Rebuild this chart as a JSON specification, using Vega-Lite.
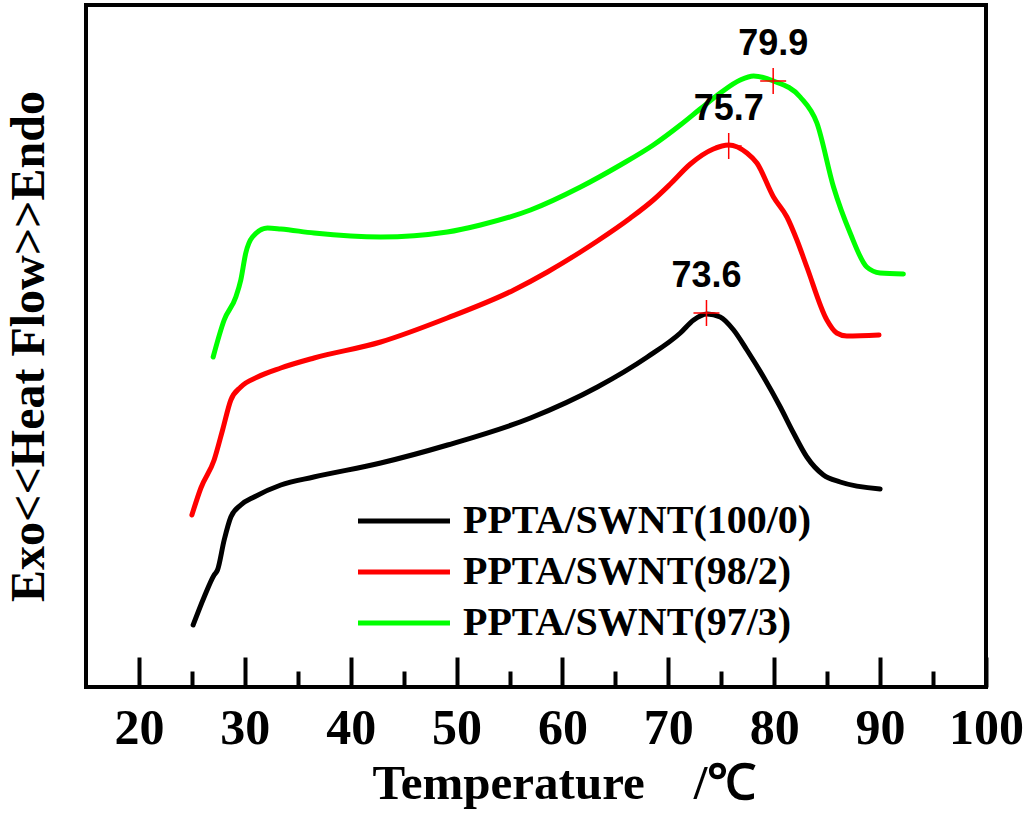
{
  "$schema": "https://vega.github.io/schema/vega-lite/v6.json",
  "description": "DSC curves of PPTA/SWNT blends",
  "width": 900,
  "height": 682,
  "autosize": {"type": "none"},
  "padding": {"left": 86, "top": 5, "right": 38, "bottom": 134},
  "background": "white",
  "config": {
    "view": {"stroke": "black", "strokeWidth": 4},
    "axis": {"domain": false, "grid": false}
  },
  "datasets": {
    "curves": [
      {"series": "PPTA/SWNT(100/0)", "T": 25.12, "hf": 6.2},
      {"series": "PPTA/SWNT(100/0)", "T": 26.16, "hf": 9.0},
      {"series": "PPTA/SWNT(100/0)", "T": 27.1, "hf": 11.2},
      {"series": "PPTA/SWNT(100/0)", "T": 27.42, "hf": 11.7},
      {"series": "PPTA/SWNT(100/0)", "T": 28.05, "hf": 14.7},
      {"series": "PPTA/SWNT(100/0)", "T": 28.68, "hf": 17.0},
      {"series": "PPTA/SWNT(100/0)", "T": 29.62, "hf": 18.2},
      {"series": "PPTA/SWNT(100/0)", "T": 30.88, "hf": 19.0},
      {"series": "PPTA/SWNT(100/0)", "T": 33.4, "hf": 20.2},
      {"series": "PPTA/SWNT(100/0)", "T": 36.5, "hf": 21.0},
      {"series": "PPTA/SWNT(100/0)", "T": 42.83, "hf": 22.4},
      {"series": "PPTA/SWNT(100/0)", "T": 49.15, "hf": 24.2},
      {"series": "PPTA/SWNT(100/0)", "T": 56.98, "hf": 26.9},
      {"series": "PPTA/SWNT(100/0)", "T": 63.3, "hf": 30.0},
      {"series": "PPTA/SWNT(100/0)", "T": 68.02, "hf": 33.0},
      {"series": "PPTA/SWNT(100/0)", "T": 71.13, "hf": 35.4},
      {"series": "PPTA/SWNT(100/0)", "T": 72.39, "hf": 36.7},
      {"series": "PPTA/SWNT(100/0)", "T": 73.65, "hf": 37.3},
      {"series": "PPTA/SWNT(100/0)", "T": 74.9, "hf": 37.0},
      {"series": "PPTA/SWNT(100/0)", "T": 76.16, "hf": 35.7},
      {"series": "PPTA/SWNT(100/0)", "T": 77.42, "hf": 33.7},
      {"series": "PPTA/SWNT(100/0)", "T": 78.99, "hf": 31.0},
      {"series": "PPTA/SWNT(100/0)", "T": 80.57, "hf": 28.0},
      {"series": "PPTA/SWNT(100/0)", "T": 81.82, "hf": 25.4},
      {"series": "PPTA/SWNT(100/0)", "T": 83.08, "hf": 23.0},
      {"series": "PPTA/SWNT(100/0)", "T": 84.65, "hf": 21.2},
      {"series": "PPTA/SWNT(100/0)", "T": 86.23, "hf": 20.5},
      {"series": "PPTA/SWNT(100/0)", "T": 90.0, "hf": 19.8},
      {"series": "PPTA/SWNT(98/2)", "T": 25.0, "hf": 17.2},
      {"series": "PPTA/SWNT(98/2)", "T": 25.85, "hf": 19.9},
      {"series": "PPTA/SWNT(98/2)", "T": 27.1, "hf": 22.7},
      {"series": "PPTA/SWNT(98/2)", "T": 27.9, "hf": 25.7},
      {"series": "PPTA/SWNT(98/2)", "T": 28.68, "hf": 28.7},
      {"series": "PPTA/SWNT(98/2)", "T": 29.62, "hf": 30.0},
      {"series": "PPTA/SWNT(98/2)", "T": 31.2, "hf": 31.0},
      {"series": "PPTA/SWNT(98/2)", "T": 33.4, "hf": 31.9},
      {"series": "PPTA/SWNT(98/2)", "T": 36.54, "hf": 32.9},
      {"series": "PPTA/SWNT(98/2)", "T": 42.83, "hf": 34.5},
      {"series": "PPTA/SWNT(98/2)", "T": 49.12, "hf": 36.9},
      {"series": "PPTA/SWNT(98/2)", "T": 55.41, "hf": 39.7},
      {"series": "PPTA/SWNT(98/2)", "T": 58.58, "hf": 41.5},
      {"series": "PPTA/SWNT(98/2)", "T": 61.7, "hf": 43.5},
      {"series": "PPTA/SWNT(98/2)", "T": 63.3, "hf": 44.6},
      {"series": "PPTA/SWNT(98/2)", "T": 66.42, "hf": 46.9},
      {"series": "PPTA/SWNT(98/2)", "T": 68.58, "hf": 48.7},
      {"series": "PPTA/SWNT(98/2)", "T": 70.19, "hf": 50.3},
      {"series": "PPTA/SWNT(98/2)", "T": 72.08, "hf": 52.3},
      {"series": "PPTA/SWNT(98/2)", "T": 74.25, "hf": 53.8},
      {"series": "PPTA/SWNT(98/2)", "T": 75.7, "hf": 54.2},
      {"series": "PPTA/SWNT(98/2)", "T": 77.42, "hf": 53.4},
      {"series": "PPTA/SWNT(98/2)", "T": 78.36, "hf": 52.4},
      {"series": "PPTA/SWNT(98/2)", "T": 79.93, "hf": 49.0},
      {"series": "PPTA/SWNT(98/2)", "T": 81.2, "hf": 47.0},
      {"series": "PPTA/SWNT(98/2)", "T": 82.14, "hf": 44.7},
      {"series": "PPTA/SWNT(98/2)", "T": 83.08, "hf": 42.0},
      {"series": "PPTA/SWNT(98/2)", "T": 84.97, "hf": 36.7},
      {"series": "PPTA/SWNT(98/2)", "T": 85.9, "hf": 35.4},
      {"series": "PPTA/SWNT(98/2)", "T": 86.85, "hf": 35.1},
      {"series": "PPTA/SWNT(98/2)", "T": 89.9, "hf": 35.2},
      {"series": "PPTA/SWNT(97/3)", "T": 27.01, "hf": 33.0},
      {"series": "PPTA/SWNT(97/3)", "T": 28.05, "hf": 36.7},
      {"series": "PPTA/SWNT(97/3)", "T": 29.15, "hf": 39.0},
      {"series": "PPTA/SWNT(97/3)", "T": 29.62, "hf": 40.7},
      {"series": "PPTA/SWNT(97/3)", "T": 30.09, "hf": 43.4},
      {"series": "PPTA/SWNT(97/3)", "T": 30.72, "hf": 45.0},
      {"series": "PPTA/SWNT(97/3)", "T": 32.14, "hf": 45.9},
      {"series": "PPTA/SWNT(97/3)", "T": 33.4, "hf": 45.8},
      {"series": "PPTA/SWNT(97/3)", "T": 36.54, "hf": 45.4},
      {"series": "PPTA/SWNT(97/3)", "T": 42.83, "hf": 45.0},
      {"series": "PPTA/SWNT(97/3)", "T": 49.12, "hf": 45.5},
      {"series": "PPTA/SWNT(97/3)", "T": 52.26, "hf": 46.2},
      {"series": "PPTA/SWNT(97/3)", "T": 56.98, "hf": 47.7},
      {"series": "PPTA/SWNT(97/3)", "T": 61.7, "hf": 50.0},
      {"series": "PPTA/SWNT(97/3)", "T": 65.47, "hf": 52.2},
      {"series": "PPTA/SWNT(97/3)", "T": 68.58, "hf": 54.2},
      {"series": "PPTA/SWNT(97/3)", "T": 71.13, "hf": 56.2},
      {"series": "PPTA/SWNT(97/3)", "T": 73.0, "hf": 57.8},
      {"series": "PPTA/SWNT(97/3)", "T": 74.9, "hf": 59.4},
      {"series": "PPTA/SWNT(97/3)", "T": 76.79, "hf": 60.7},
      {"series": "PPTA/SWNT(97/3)", "T": 78.05, "hf": 61.1},
      {"series": "PPTA/SWNT(97/3)", "T": 79.93, "hf": 60.6},
      {"series": "PPTA/SWNT(97/3)", "T": 82.45, "hf": 59.0},
      {"series": "PPTA/SWNT(97/3)", "T": 84.03, "hf": 56.4},
      {"series": "PPTA/SWNT(97/3)", "T": 85.6, "hf": 50.0},
      {"series": "PPTA/SWNT(97/3)", "T": 87.17, "hf": 45.4},
      {"series": "PPTA/SWNT(97/3)", "T": 88.74, "hf": 42.0},
      {"series": "PPTA/SWNT(97/3)", "T": 90.0, "hf": 41.4},
      {"series": "PPTA/SWNT(97/3)", "T": 92.2, "hf": 41.3}
    ],
    "peaks": [
      {"T": 73.6, "hf": 37.4, "label": "73.6"},
      {"T": 75.7, "hf": 54.1, "label": "75.7"},
      {"T": 79.9, "hf": 60.6, "label": "79.9"}
    ]
  },
  "layer": [
    {
      "data": {"name": "curves"},
      "mark": {"type": "line", "strokeWidth": 5, "interpolate": "monotone", "strokeCap": "round"},
      "encoding": {
        "x": {
          "field": "T",
          "type": "quantitative",
          "scale": {"domain": [15, 100], "nice": false, "zero": false},
          "axis": {
            "title": "Temperature \u00a0 \u00a0/℃",
            "values": [20, 25, 30, 35, 40, 45, 50, 55, 60, 65, 70, 75, 80, 85, 90, 95, 100],
            "labelExpr": "datum.value % 10 === 0 ? datum.label : ''",
            "tickSize": {"condition": {"test": "datum.value % 10 === 0", "value": -30}, "value": -16},
            "tickWidth": 4,
            "tickColor": "black",
            "labelFont": "Liberation Serif",
            "labelFontWeight": "bold",
            "labelFontSize": 50,
            "labelColor": "black",
            "labelPadding": 46,
            "labelFlush": false,
            "labelOverlap": false,
            "titleFont": "Liberation Serif",
            "titleFontWeight": "bold",
            "titleFontSize": 49,
            "titleColor": "black",
            "titlePadding": -8,
            "titleX": 478
          }
        },
        "y": {
          "field": "hf",
          "type": "quantitative",
          "scale": {"domain": [0, 68.2], "nice": false},
          "axis": {
            "title": "Exo<<Heat Flow>>Endo",
            "ticks": false,
            "labels": false,
            "titleFont": "Liberation Serif",
            "titleFontWeight": "bold",
            "titleFontSize": 48,
            "titleColor": "black",
            "titlePadding": 33
          }
        },
        "color": {
          "field": "series",
          "type": "nominal",
          "scale": {
            "domain": ["PPTA/SWNT(100/0)", "PPTA/SWNT(98/2)", "PPTA/SWNT(97/3)"],
            "range": ["#000000", "#ff0000", "#00ff00"]
          },
          "legend": {
            "title": null,
            "orient": "none",
            "legendX": 297,
            "legendY": 495,
            "padding": 0,
            "symbolType": "M-2.5,0L2.5,0",
            "symbolSize": 1354,
            "symbolStrokeWidth": 5,
            "labelFont": "Liberation Serif",
            "labelFontWeight": "bold",
            "labelFontSize": 40,
            "labelColor": "black",
            "labelLimit": 0,
            "labelOffset": 38,
            "rowPadding": 10
          }
        }
      }
    },
    {
      "data": {"name": "peaks"},
      "mark": {
        "type": "point",
        "shape": "M-1,0L1,0M0,-1L0,1",
        "filled": false,
        "stroke": "#ff0000",
        "strokeWidth": 1.5,
        "size": 676,
        "opacity": 1
      },
      "encoding": {
        "x": {"field": "T", "type": "quantitative"},
        "y": {"field": "hf", "type": "quantitative"}
      }
    },
    {
      "data": {"name": "peaks"},
      "mark": {
        "type": "text",
        "font": "Liberation Sans",
        "fontWeight": "bold",
        "fontSize": 36,
        "color": "black",
        "dy": -37
      },
      "encoding": {
        "x": {"field": "T", "type": "quantitative"},
        "y": {"field": "hf", "type": "quantitative"},
        "text": {"field": "label"}
      }
    }
  ]
}
